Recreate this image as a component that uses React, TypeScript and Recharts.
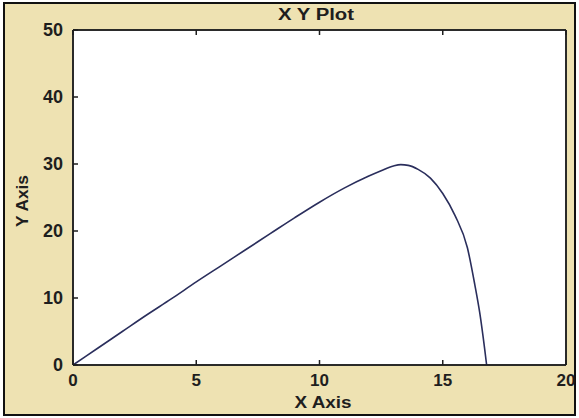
import React from 'react';
import { LineChart, Line, XAxis, YAxis, CartesianGrid, ReferenceLine } from 'recharts';

// Sampled points along the curve
const xValues = [0, 1, 2, 3, 4, 5, 6, 7, 8, 9, 10, 11, 12, 12.5, 13, 13.3, 13.6, 14, 14.5, 15, 15.5, 16, 16.3, 16.5, 16.7, 16.78];
const yValues = [0, 2.5, 5, 7.5, 9.9, 12.4, 14.8, 17.2, 19.6, 22.0, 24.3, 26.4, 28.2, 29.0, 29.7, 29.9, 29.8, 29.2, 27.9, 25.6, 22.3, 17.5, 12.0, 7.8, 2.4, 0];

const xTicks = [0, 5, 10, 15, 20];
const yTicks = [0, 10, 20, 30, 40, 50];

const data = xValues.map((x, i) => ({ x, y: yValues[i] }));

const FONT = '"Liberation Sans", Arial, sans-serif';
const INK = '#1e1e1e';
const noLabel = () => <g />;

const XTick = (props: any) => {
  const { x, y, payload } = props;
  return (
    <text x={x} y={y} dy={12} textAnchor="middle" fontSize={17} fontWeight={700} fill={INK} fontFamily={FONT}>
      {payload.value}
    </text>
  );
};

const YTick = (props: any) => {
  const { x, y, payload } = props;
  return (
    <text x={x} y={y} dy={6} textAnchor="end" fontSize={18} fontWeight={700} fill={INK} fontFamily={FONT}>
      {payload.value}
    </text>
  );
};

export default function App() {
  return (
    <div style={{ position: 'fixed', left: 0, top: 0, width: 579, height: 418, background: '#fff' }}>
      <div
        style={{
          position: 'absolute',
          left: 3,
          top: 2,
          width: 569,
          height: 410,
          background: '#EEE2B2',
          border: '2px solid #111',
        }}
      />
      <div style={{ position: 'absolute', left: 0, top: 0 }}>
        <LineChart width={579} height={418} data={data} margin={{ top: 29, right: 12, bottom: 3, left: 13 }}>
          <CartesianGrid xAxisId="bottom" yAxisId="left" horizontal={false} vertical={false} fill="#fff" />
          <text x={316} y={20} textAnchor="middle" fontSize={16} fontWeight={700} fill={INK} fontFamily={FONT} textLength={76} lengthAdjust="spacingAndGlyphs">
            X Y Plot
          </text>
          <XAxis
            xAxisId="bottom"
            dataKey="x"
            type="number"
            domain={[0, 20]}
            ticks={xTicks}
            height={50}
            tickSize={-5}
            tickMargin={14}
            tick={XTick}
            stroke={INK}
            strokeWidth={1.5}
            label={{
              content: () => (
                <text x={323} y={408} textAnchor="middle" fontSize={16} fontWeight={700} fill={INK} fontFamily={FONT} textLength={57} lengthAdjust="spacingAndGlyphs">
                  X Axis
                </text>
              ),
            }}
          />
          <XAxis
            xAxisId="top"
            orientation="top"
            dataKey="x"
            type="number"
            domain={[0, 20]}
            ticks={xTicks}
            height={1}
            tickSize={-5}
            tick={noLabel}
            stroke={INK}
            strokeWidth={1.5}
          />
          <YAxis
            yAxisId="left"
            type="number"
            domain={[0, 50]}
            ticks={yTicks}
            width={60}
            tickSize={-5}
            tickMargin={15}
            tick={YTick}
            stroke={INK}
            strokeWidth={1.5}
            label={{
              content: () => (
                <text
                  x={28}
                  y={201}
                  transform="rotate(-90 28 201)"
                  textAnchor="middle"
                  fontSize={16}
                  fontWeight={700}
                  fill={INK}
                  fontFamily={FONT}
                  textLength={52}
                  lengthAdjust="spacingAndGlyphs"
                >
                  Y Axis
                </text>
              ),
            }}
          />
          <YAxis
            yAxisId="right"
            orientation="right"
            type="number"
            domain={[0, 50]}
            ticks={yTicks}
            width={1}
            tickSize={-5}
            tick={noLabel}
            stroke={INK}
            strokeWidth={1.5}
          />
          {/* box around the plot area */}
          <ReferenceLine xAxisId="bottom" yAxisId="left" x={0} stroke={INK} strokeWidth={1.5} ifOverflow="visible" />
          <ReferenceLine xAxisId="bottom" yAxisId="left" x={20} stroke={INK} strokeWidth={1.5} ifOverflow="visible" />
          <ReferenceLine xAxisId="bottom" yAxisId="left" y={0} stroke={INK} strokeWidth={1.5} ifOverflow="visible" />
          <ReferenceLine xAxisId="bottom" yAxisId="left" y={50} stroke={INK} strokeWidth={1.5} ifOverflow="visible" />
          <Line
            xAxisId="bottom"
            yAxisId="left"
            dataKey="y"
            type="monotone"
            stroke="#2A2E5C"
            strokeWidth={1.6}
            dot={false}
            isAnimationActive={false}
          />
        </LineChart>
      </div>
    </div>
  );
}
